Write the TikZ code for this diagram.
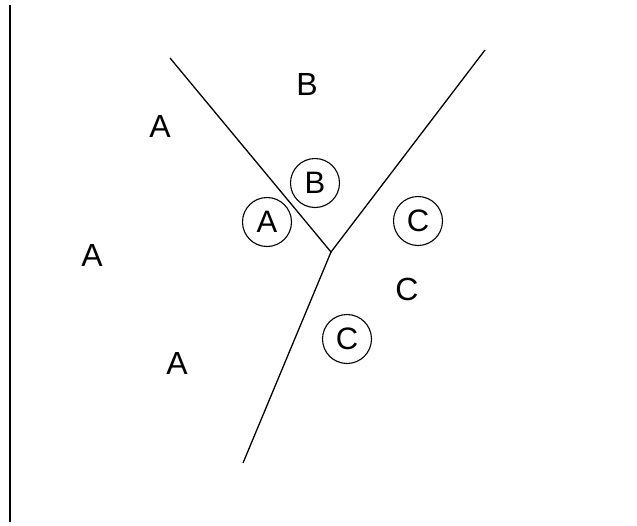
\documentclass[tikz,border=0pt]{standalone}
\usepackage{fontspec}
\setmainfont{Liberation Sans}
\begin{document}
\begin{tikzpicture}[x=1pt,y=-1pt,
  lbl/.style={font=\fontsize{32}{32}\selectfont, inner sep=0pt},
  circ/.style={font=\fontsize{31}{31}\selectfont, inner sep=0pt, draw, circle, line width=1.1pt, minimum size=49pt},
  edge/.style={line width=1.3pt}]
\useasboundingbox (0,0) rectangle (637,525);
\coordinate (top) at (10,5);
\coordinate (bot) at (10,522);
\draw[line width=1.4pt] (top) -- (bot);
\coordinate (j) at (331,252);
\coordinate (tl) at (170,58);
\coordinate (tr) at (485,50);
\coordinate (bl) at (243,463);
\draw[edge] (tl) -- (j) -- (tr);
\draw[edge] (j) -- (bl);
\node[circ] (cb) at (315,183) {B};
\node[circ] (ca) at (267,222) {A};
\node[circ] (cc1) at (418,221) {C};
\node[circ] (cc2) at (347,339) {C};
\node[lbl] (b1) at (307,84) {B};
\node[lbl] (a1) at (160,126) {A};
\node[lbl] (a2) at (92,255) {A};
\node[lbl] (a3) at (177,363) {A};
\node[lbl] (c1) at (407,289) {C};
\end{tikzpicture}
\end{document}
